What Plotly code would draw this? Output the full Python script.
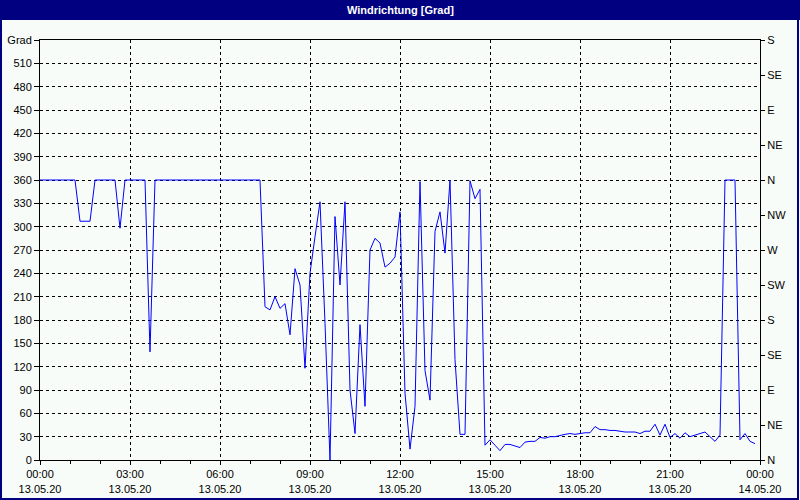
import pandas as pd
import plotly.graph_objects as go

# Wind direction in degrees, 10-minute samples from 13.05.20 00:00
direction = [
    360, 360, 360, 360, 360, 360, 360, 360, 307, 307,
    307, 360, 360, 360, 360, 360, 298, 360, 360, 360,
    360, 360, 139, 360, 360, 360, 360, 360, 360, 360,
    360, 360, 360, 360, 360, 360, 360, 360, 360, 360,
    360, 360, 360, 360, 360, 197, 193, 210, 195, 201,
    161, 246, 225, 118, 240, 287, 332, 176, 0, 313,
    225, 332, 90, 34, 174, 69, 270, 285, 279, 248,
    253, 261, 319, 86, 14, 69, 358, 115, 77, 294,
    319, 266, 360, 129, 33, 33, 359, 336, 348, 19,
    26, 19, 12, 20, 20, 18, 16, 23, 24, 24,
    29, 28, 30, 30, 32, 33, 34, 33, 34, 35,
    35, 43, 39, 39, 38, 38, 37, 36, 36, 36,
    34, 37, 37, 46, 32, 46, 29, 34, 28, 35,
    30, 32, 33, 36, 30, 24, 32, 360, 360, 360,
    26, 34, 24, 21,
]
times = pd.date_range("2020-05-13 00:00", periods=len(direction), freq="10min")

x_tickvals = pd.date_range("2020-05-13 00:00", "2020-05-14 00:00", freq="3h")
x_ticktext = [
    "00:00<br>13.05.20", "03:00<br>13.05.20", "06:00<br>13.05.20",
    "09:00<br>13.05.20", "12:00<br>13.05.20", "15:00<br>13.05.20",
    "18:00<br>13.05.20", "21:00<br>13.05.20", "00:00<br>14.05.20",
]
y_tickvals = list(range(0, 541, 30))
y_ticktext = [str(v) for v in range(0, 511, 30)] + ["Grad"]
compass_vals = list(range(0, 541, 45))
compass_text = ["N", "NE", "E", "SE", "S", "SW", "W", "NW", "N", "NE", "E", "SE", "S"]

title_text = "Windrichtung [Grad]"

BG = "#F8FCF8"
NAVY = "#000080"
FONT = dict(family="Liberation Sans, Arial, sans-serif", size=11, color="#000000")

W, H = 800, 500
L, R, T, B = 40, 40, 40, 40
pw, ph = W - L - R, H - T - B


def px_x(p):
    return (p - L) / pw


def px_y(p):
    return (H - B - p) / ph


fig = go.Figure()
fig.add_trace(go.Scatter(
    x=times, y=direction, mode="lines",
    line=dict(color="#0000FF", width=1),
    showlegend=False, hoverinfo="x+y",
))
fig.add_trace(go.Scatter(
    x=[times[0]], y=[0], mode="markers", marker=dict(opacity=0),
    yaxis="y2", showlegend=False, hoverinfo="skip",
))

fig.update_layout(
    width=W, height=H,
    margin=dict(l=L, r=R, t=T, b=B, pad=0, autoexpand=False),
    paper_bgcolor=BG, plot_bgcolor=BG,
    font=FONT,
    showlegend=False,
    xaxis=dict(
        type="date", automargin=False,
        range=[x_tickvals[0], x_tickvals[-1]],
        tickmode="array", tickvals=list(x_tickvals), ticktext=x_ticktext,
        showgrid=True, gridcolor="#000000", gridwidth=1, griddash="3px,3px",
        showline=True, linecolor="#000000", linewidth=1, mirror=True,
        ticks="outside", ticklen=4, tickcolor="#000000",
        minor=dict(dtick=3600000, ticks="outside", ticklen=3, tickcolor="#000000", showgrid=False),
        zeroline=False, fixedrange=True,
        tickfont=FONT,
    ),
    yaxis=dict(
        range=[0, 540], automargin=False,
        tickmode="array", tickvals=y_tickvals, ticktext=y_ticktext,
        showgrid=True, gridcolor="#000000", gridwidth=1, griddash="3px,3px",
        showline=True, linecolor="#000000", linewidth=1, mirror=True,
        ticks="outside", ticklen=5, tickcolor="#000000",
        zeroline=False, fixedrange=True,
        tickfont=FONT,
    ),
    yaxis2=dict(
        range=[0, 540], overlaying="y", side="right", automargin=False,
        tickmode="array", tickvals=compass_vals, ticktext=compass_text,
        showgrid=False, showline=True, linecolor="#000000", linewidth=1,
        ticks="outside", ticklen=4, tickcolor="#000000",
        zeroline=False, fixedrange=True,
        tickfont=FONT,
    ),
    shapes=[
        dict(type="rect", xref="paper", yref="paper",
             x0=px_x(0), x1=px_x(W), y0=px_y(20), y1=px_y(0),
             fillcolor=NAVY, line=dict(width=0), layer="above"),
        dict(type="rect", xref="paper", yref="paper",
             x0=px_x(1), x1=px_x(W - 2), y0=px_y(H - 1), y1=px_y(1),
             fillcolor="rgba(0,0,0,0)", line=dict(color=NAVY, width=2), layer="above"),
    ],
    annotations=[
        dict(text="<b>" + title_text + "</b>", xref="paper", yref="paper",
             x=px_x(400), y=px_y(10), xanchor="center", yanchor="middle",
             showarrow=False,
             font=dict(family="Liberation Sans Narrow, Liberation Sans, Arial, sans-serif",
                       size=11, color="#FFFFFF")),
    ],
)

fig.write_html(
    "out.html",
    config={"displayModeBar": False},
    post_script="document.body.style.margin='0';document.body.style.padding='0';",
)
